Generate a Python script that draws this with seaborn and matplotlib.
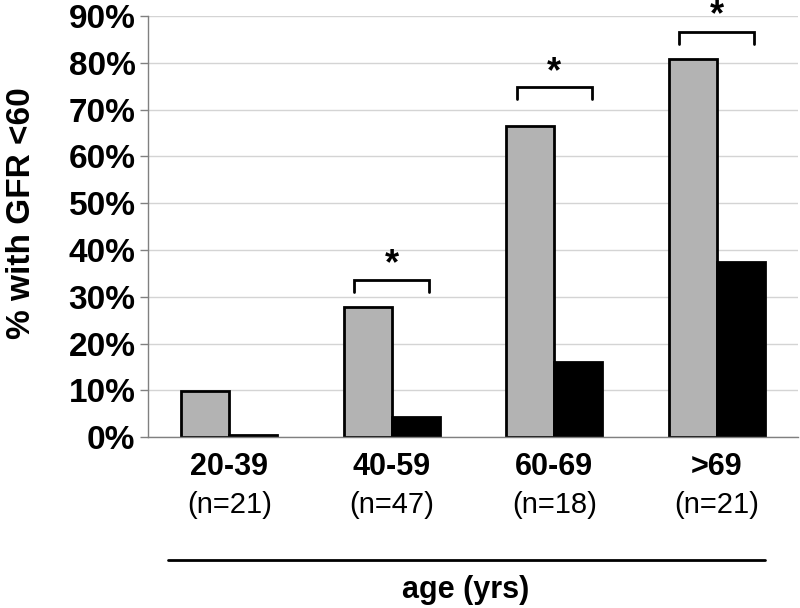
import matplotlib
matplotlib.use("Agg")
import matplotlib.pyplot as plt
from matplotlib.lines import Line2D
import seaborn as sns
import pandas as pd
import numpy as np

sns.set_style("white")
plt.rcParams['font.family'] = ['Liberation Sans', 'DejaVu Sans']
plt.rcParams['text.color'] = 'black'
plt.rcParams['axes.labelcolor'] = 'black'
plt.rcParams['xtick.color'] = 'black'
plt.rcParams['ytick.color'] = 'black'

# data
age_groups = ["20-39", "40-59", "60-69", ">69"]
n_counts = [21, 47, 18, 21]
series_a = [9.8, 27.8, 66.5, 80.8]   # grey bars
series_b = [0.5, 4.3, 16.0, 37.4]    # black bars
signif_groups = ["40-59", "60-69", ">69"]
bracket_top = [33.5, 74.8, 86.5]
star_y = [36.8, 78.0, 90.0]

df = pd.DataFrame({
    "age": age_groups * 2,
    "pct": series_a + series_b,
    "series": ["A"] * 4 + ["B"] * 4,
})

fig = plt.figure(figsize=(8, 6.08), dpi=100)
ax = fig.add_axes([0.185, 0.281, 0.8125, 0.6925])

sns.barplot(data=df, x="age", y="pct", hue="series", order=age_groups,
            palette=["#b3b3b3", "#000000"], width=0.59, gap=0,
            edgecolor="black", linewidth=2, legend=False, ax=ax)

ax.set_ylim(0, 90)
ax.set_xlim(-0.5, 3.5)
ax.set_yticks(np.arange(0, 91, 10))
ax.set_yticklabels([f"{v}%" for v in range(0, 91, 10)], fontsize=24,
                   fontweight="bold")
ax.yaxis.grid(True, color="#d4d4d4", linewidth=1)
ax.set_axisbelow(True)

ax.set_xticks([])
ax.set_xticks(np.arange(-0.5, 4, 1), minor=True)
ax.tick_params(axis="x", which="minor", length=6, color="#808080", width=1)
ax.tick_params(axis="y", length=6, color="#808080", width=1, pad=3,
               left=True)
ax.set_xlabel("")
ax.set_ylabel("% with GFR <60", fontsize=24, fontweight="bold")
ax.yaxis.set_label_coords(-0.17, 0.532)

for side in ["top", "right"]:
    ax.spines[side].set_visible(False)
for side in ["left", "bottom"]:
    ax.spines[side].set_color("#808080")
    ax.spines[side].set_linewidth(1)

# significance brackets
for g, h, sy in zip(signif_groups, bracket_top, star_y):
    i = age_groups.index(g)
    ax.plot([i - 0.23, i - 0.23, i + 0.23, i + 0.23],
            [h - 2.5, h, h, h - 2.5], color="black", linewidth=2,
            solid_joinstyle="miter", clip_on=False)
    ax.text(i, sy, "*", ha="center", va="center", fontsize=26,
            fontweight="bold")

# two-line category labels
trans = ax.get_xaxis_transform()
for i, (g, n) in enumerate(zip(age_groups, n_counts)):
    ax.text(i, -0.07, g, transform=trans, ha="center", va="center",
            fontsize=22, fontweight="bold")
    ax.text(i, -0.162, f"(n={n})", transform=trans, ha="center",
            va="center", fontsize=21)

fig.add_artist(Line2D([168 / 800, 765 / 800], [1 - 560 / 608, 1 - 560 / 608],
                      color="black", linewidth=2))
fig.text(466 / 800, 1 - 590 / 608, "age (yrs)", ha="center", va="center",
         fontsize=22, fontweight="bold")

fig.savefig("out.png", dpi=100)
